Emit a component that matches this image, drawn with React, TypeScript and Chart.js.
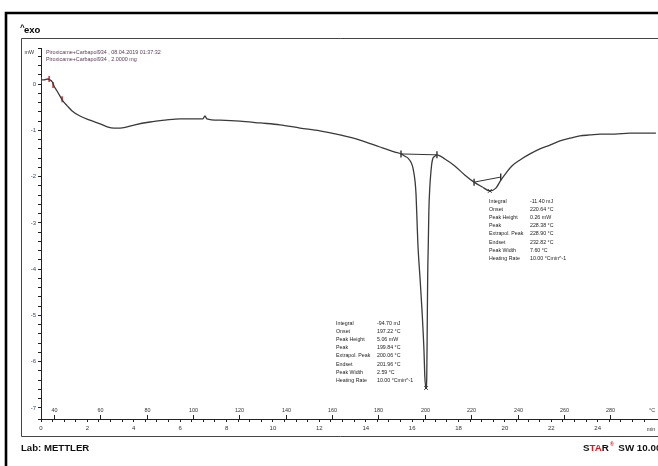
import React, { useEffect, useRef } from "react";
import { Chart, registerables } from "chart.js";

Chart.register(...registerables);

// DSC curve: time (min) vs heat flow (mW)
const times = [
  0.0, 0.13, 0.3, 0.39, 0.48, 0.56, 0.69, 0.82, 0.95, 1.13, 1.34, 1.68, 2.11, 2.55, 2.89, 3.15,
  3.41, 3.67, 4.05, 4.7, 5.35, 5.99, 6.63, 6.98, 7.07, 7.15, 7.72, 8.58, 9.44, 10.3, 11.17,
  12.02, 12.89, 13.75, 14.61, 15.26, 15.52, 15.69, 15.82, 15.95, 16.04, 16.13, 16.17, 16.21,
  16.25, 16.34, 16.43, 16.51, 16.55, 16.6, 16.63, 16.65, 16.67, 16.7, 16.72, 16.76, 16.81,
  16.85, 16.9, 16.98, 17.07, 17.41, 17.84, 18.28, 18.67, 19.01, 19.35, 19.61, 19.82, 20.04,
  20.3, 20.65, 21.08, 21.51, 21.94, 22.37, 22.8, 23.23, 23.67, 24.1, 24.74, 25.39, 26.04,
  26.51,
];
const heatFlow = [
  0.09, 0.09, 0.11, 0.09, 0.05, -0.04, -0.15, -0.26, -0.37, -0.47, -0.58, -0.69, -0.78, -0.86,
  -0.93, -0.95, -0.95, -0.93, -0.88, -0.82, -0.78, -0.75, -0.75, -0.75, -0.69, -0.75, -0.78,
  -0.8, -0.84, -0.88, -0.95, -1.01, -1.1, -1.21, -1.36, -1.47, -1.51, -1.56, -1.6, -1.69, -1.82,
  -2.12, -2.4, -2.94, -3.48, -4.19, -4.93, -5.75, -6.35, -6.57, -6.35, -5.32, -4.19, -3.37,
  -2.77, -2.25, -1.9, -1.71, -1.6, -1.56, -1.53, -1.62, -1.77, -1.97, -2.12, -2.22, -2.31,
  -2.25, -2.08, -1.93, -1.77, -1.64, -1.51, -1.4, -1.32, -1.23, -1.17, -1.12, -1.1, -1.08,
  -1.08, -1.06, -1.06, -1.06,
];

// Peak evaluation baselines (time, mW)
const baseline1T = [15.52, 17.07];
const baseline1Y = [-1.51, -1.53];
const baseline2T = [18.67, 19.82];
const baseline2Y = [-2.12, -2.01];
// Peak minima markers
const peakT = [16.6, 19.35];
const peakY = [-6.57, -2.31];
// Red evaluation markers near start
const redT = [0.0, 0.35, 0.52, 0.91];
const redY = [0.09, 0.11, -0.02, -0.33];

// Temperature scale labels (°C), heating 10 °C/min from 34.5 °C
const tempLabels = [40, 60, 80, 100, 120, 140, 160, 180, 200, 220, 240, 260, 280];
const startTemp = 34.5;
const heatingRate = 10;

const headerLines = [
  "Piroxicame+Carbapol934 , 08.04.2019 01:37:32",
  "Piroxicame+Carbapol934 , 2.0000 mg",
];
const resultNames = [
  "Integral",
  "Onset",
  "Peak Height",
  "Peak",
  "Extrapol. Peak",
  "Endset",
  "Peak Width",
  "Heating Rate",
];
const peak1Values = [
  "-94.70 mJ",
  "197.22 °C",
  "5.06 mW",
  "199.84 °C",
  "200.06 °C",
  "201.96 °C",
  "2.59 °C",
  "10.00 °Cmin^-1",
];
const peak2Values = [
  "-11.40 mJ",
  "220.64 °C",
  "0.26 mW",
  "228.38 °C",
  "228.90 °C",
  "232.82 °C",
  "7.60 °C",
  "10.00 °Cmin^-1",
];

const FONT = "'Liberation Sans', Arial, sans-serif";

function txt(
  ctx: CanvasRenderingContext2D,
  s: string,
  x: number,
  y: number,
  font: string,
  color: string,
  align: CanvasTextAlign = "left",
  sx = 0.88,
  baseline: CanvasTextBaseline = "middle"
) {
  ctx.save();
  ctx.font = font;
  ctx.fillStyle = color;
  ctx.textAlign = align;
  ctx.textBaseline = baseline;
  ctx.translate(x, y);
  ctx.scale(sx, 1);
  ctx.fillText(s, 0, 0);
  ctx.restore();
}

const decorPlugin = {
  id: "decor",
  beforeDraw(chart: any) {
    const ctx: CanvasRenderingContext2D = chart.ctx;
    ctx.save();
    ctx.fillStyle = "#fff";
    ctx.fillRect(0, 0, chart.width, chart.height);
    // outer thick frame
    ctx.strokeStyle = "#000";
    ctx.lineWidth = 2.6;
    ctx.beginPath();
    ctx.moveTo(6, 470);
    ctx.lineTo(6, 13);
    ctx.lineTo(670, 13);
    ctx.stroke();
    // inner thin frame
    ctx.strokeStyle = "#444";
    ctx.lineWidth = 1;
    ctx.beginPath();
    ctx.moveTo(670, 38.5);
    ctx.lineTo(21.5, 38.5);
    ctx.lineTo(21.5, 436.5);
    ctx.lineTo(670, 436.5);
    ctx.stroke();
    ctx.restore();
  },
  afterDraw(chart: any) {
    const ctx: CanvasRenderingContext2D = chart.ctx;
    const xs = chart.scales.x;
    const area = chart.chartArea;
    ctx.save();
    // ^exo
    txt(ctx, "^", 20, 30, `bold 8px ${FONT}`, "#000", "left", 1, "alphabetic");
    txt(ctx, "exo", 24, 33, `bold 9.5px ${FONT}`, "#000", "left", 1, "alphabetic");
    // mW unit
    txt(ctx, "mW", 34, 52, `6px ${FONT}`, "#333", "right", 0.9);
    // header
    headerLines.forEach((l, i) =>
      txt(ctx, l, 46, 52 + i * 7, `6px ${FONT}`, "#5a3a55", "left", 0.9)
    );
    // temperature labels and ticks
    ctx.strokeStyle = "#222";
    ctx.lineWidth = 1;
    const yAxis = area.bottom;
    tempLabels.forEach((T) => {
      const px = Math.round(xs.getPixelForValue((T - startTemp) / heatingRate)) + 0.5;
      ctx.beginPath();
      ctx.moveTo(px, yAxis);
      ctx.lineTo(px, yAxis - 4);
      ctx.stroke();
      txt(ctx, String(T), px, yAxis - 9, `6px ${FONT}`, "#333", "center", 0.9);
    });
    txt(ctx, "°C", 652, yAxis - 9, `6px ${FONT}`, "#333", "center", 0.9);
    txt(ctx, "min", 651, yAxis + 10, `6px ${FONT}`, "#333", "center", 0.9);
    // result blocks
    resultNames.forEach((n, i) => {
      const y1 = 323 + i * 8.2;
      txt(ctx, n, 336, y1, `6px ${FONT}`, "#222");
      txt(ctx, peak1Values[i], 377, y1, `6px ${FONT}`, "#222");
      const y2 = 201 + i * 8.2;
      txt(ctx, n, 489, y2, `6px ${FONT}`, "#222");
      txt(ctx, peak2Values[i], 530, y2, `6px ${FONT}`, "#222");
    });
    // footer
    txt(ctx, "Lab: METTLER", 21, 451, `bold 9.6px ${FONT}`, "#111", "left", 1, "alphabetic");
    ctx.textBaseline = "alphabetic";
    ctx.textAlign = "left";
    let x = 583;
    const parts: [string, string][] = [
      ["S", "#111"],
      ["TA", "#e0161b"],
      ["R", "#111"],
    ];
    parts.forEach(([s, c]) => {
      ctx.font = `bold 9.8px ${FONT}`;
      ctx.fillStyle = c;
      ctx.fillText(s, x, 451);
      x += ctx.measureText(s).width;
    });
    ctx.font = `bold 5px ${FONT}`;
    ctx.fillStyle = "#e0161b";
    ctx.fillText("®", x + 1, 446);
    x += ctx.measureText("®").width + 2;
    ctx.font = `bold 9.8px ${FONT}`;
    ctx.fillStyle = "#111";
    ctx.fillText(" SW 10.00", x + 1, 451);
    ctx.restore();
  },
};

export default function App() {
  const ref = useRef<HTMLCanvasElement>(null);
  useEffect(() => {
    if (!ref.current) return;
    const pts = (t: number[], y: number[]) => t.map((v, i) => ({ x: v, y: y[i] }));
    const chart = new Chart(ref.current, {
      type: "line",
      data: {
        datasets: [
          {
            data: pts(times, heatFlow),
            borderColor: "#3a3a3a",
            borderWidth: 1.3,
            pointRadius: 0,
            cubicInterpolationMode: "monotone",
          },
          {
            data: pts(baseline1T, baseline1Y),
            borderColor: "#333",
            borderWidth: 1,
            pointStyle: "line",
            rotation: 90,
            pointRadius: 3.5,
            pointBorderWidth: 1.3,
            pointBorderColor: "#222",
          },
          {
            data: pts(baseline2T, baseline2Y),
            borderColor: "#333",
            borderWidth: 1,
            pointStyle: "line",
            rotation: 90,
            pointRadius: 3.5,
            pointBorderWidth: 1.3,
            pointBorderColor: "#222",
          },
          {
            data: pts(peakT, peakY),
            showLine: false,
            pointStyle: "crossRot",
            pointRadius: 2.5,
            pointBorderWidth: 1,
            pointBorderColor: "#222",
          },
          {
            data: pts(redT, redY),
            showLine: false,
            pointStyle: "line",
            rotation: 90,
            pointRadius: 3,
            pointBorderWidth: 1.4,
            pointBorderColor: "#e01818",
          },
        ] as any,
      },
      options: {
        responsive: false,
        animation: false,
        devicePixelRatio: 1,
        layout: { autoPadding: false, padding: { top: 48, left: 0, right: 0, bottom: 0 } },
        plugins: {
          legend: { display: false },
          tooltip: { enabled: false },
          title: { display: false },
        },
        scales: {
          x: {
            type: "linear",
            min: 0,
            max: 26.6,
            position: "bottom",
            border: { display: true, color: "#222", width: 1 },
            grid: { drawOnChartArea: false, drawTicks: true, tickLength: 3, color: "#222" },
            ticks: {
              stepSize: 0.5,
              autoSkip: false,
              maxRotation: 0,
              padding: 3,
              color: "#333",
              font: { size: 6, family: FONT },
              callback: (v: any) => {
                const n = Number(v);
                return Math.abs(n - Math.round(n)) < 1e-6 && Math.round(n) % 2 === 0 && n <= 24
                  ? String(Math.round(n))
                  : "";
              },
            },
            afterFit: (s: any) => {
              s.height = 47;
              s.paddingRight = 0;
              s.paddingLeft = 0;
            },
          },
          y: {
            type: "linear",
            min: -7.24,
            max: 0.78,
            border: { display: true, color: "#222", width: 1 },
            grid: { drawOnChartArea: false, drawTicks: true, tickLength: 3, color: "#222" },
            ticks: {
              stepSize: 0.2,
              autoSkip: false,
              padding: 2,
              color: "#3a4670",
              font: { size: 6, family: FONT },
              callback: (v: any) => {
                const n = Number(v);
                return Math.abs(n - Math.round(n)) < 1e-6 ? String(Math.round(n)) : "";
              },
            },
            afterFit: (s: any) => {
              s.width = 41;
            },
          },
        },
      } as any,
      plugins: [decorPlugin],
    });
    return () => chart.destroy();
  }, []);
  return (
    <canvas
      ref={ref}
      width={658}
      height={466}
      style={{ position: "absolute", left: 0, top: 0, display: "block" }}
    />
  );
}
